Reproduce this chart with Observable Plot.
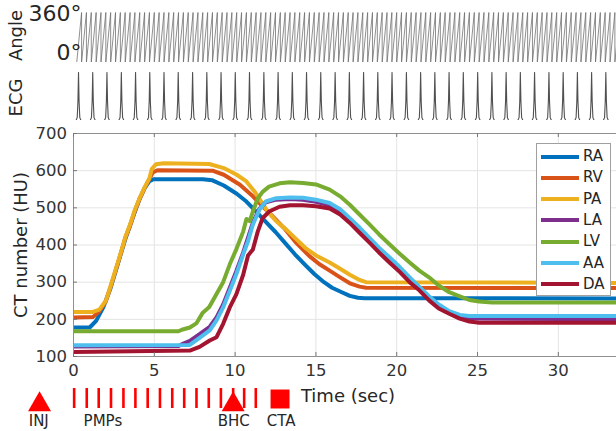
<!DOCTYPE html>
<html><head><meta charset="utf-8">
<script src="https://cdn.jsdelivr.net/npm/d3@7"></script>
<script src="https://cdn.jsdelivr.net/npm/@observablehq/plot@0.6"></script>
<style>
body{margin:0;background:#fff;}
#chart{position:relative;width:616px;height:431px;overflow:hidden;font-family:"DejaVu Sans",sans-serif;background:#fff;}
#chart svg{position:absolute;left:0;overflow:visible;}
.legend{position:absolute;left:536px;top:143px;width:73px;height:151px;border:1px solid #a0a0a0;background:#fff;}
.legend .row{position:absolute;left:0;width:73px;height:21.3px;}
.legend .sw{position:absolute;left:4px;top:8.6px;width:38px;height:4px;}
.legend .lb{position:absolute;left:46px;top:0;line-height:21.3px;font-size:15px;color:#262626;}
</style></head>
<body><div id="chart"></div>
<script>
// ---- data ----
const seriesNames = ["RA","RV","PA","LA","LV","AA","DA"];
const seriesColors = ["#0072BD","#D95319","#EDB120","#7E2F8E","#77AC30","#4DBEEE","#A2142F"];

const tRA = [0,1.0,1.4,1.85,2.3,2.6,2.9,3.2,3.5,3.8,4.1,4.4,4.7,4.95,8.0,8.6,9.3,10.1,10.7,11.3,11.9,12.5,13.1,13.7,14.3,14.9,15.5,16.0,16.5,17.1,17.6,18.0,33.6];
const vRA = [178,178,196,233,285,328,372,415,452,490,525,553,572,577,577,574,560,538,517,490,462,435,405,375,348,322,300,285,275,263,258,257,256];

const tRV = [0,1.2,1.6,2.0,2.3,2.6,2.9,3.2,3.5,3.8,4.1,4.4,4.7,4.9,5.2,8.6,9.3,10.3,11.1,11.7,12.3,13.0,13.8,14.6,15.2,15.85,16.5,17.1,17.7,18.1,33.6];
const vRV = [205,206,222,248,288,330,373,418,452,492,525,553,578,595,601,600,589,562,531,504,478,447,405,370,349,331,313,297,288,285,284];

const tPA = [0,1.2,1.6,2.0,2.3,2.6,2.9,3.2,3.5,3.8,4.1,4.4,4.7,4.85,5.1,5.6,8.4,9.3,10.1,10.7,11.2,11.6,12.0,12.55,13.2,13.8,14.4,15.0,15.85,16.5,17.1,17.7,18.1,33.6];
const vPA = [220,220,226,250,290,333,375,420,455,495,527,555,580,605,617,620,618,607,589,571,544,518,491,464,440,415,390,372,353,336,320,306,300,298];

const tLA = [0,6.5,6.8,7.2,7.8,8.43,8.85,9.26,9.67,10.08,10.5,10.8,11.1,11.5,11.9,12.55,13.4,14.2,15.0,15.85,16.5,17.08,17.7,18.3,18.9,19.55,20.2,20.8,21.4,22.0,22.6,23.25,23.9,24.5,33.6];
const vLA = [127,128,135,142,160,180,205,240,285,330,380,420,460,497,515,522,524,522,516,507,490,467,440,413,386,360,333,306,282,256,234,218,207,202,200];

const tLV = [0,6.5,6.7,7.2,7.6,8.0,8.4,8.85,9.26,9.67,10.08,10.5,10.7,10.9,11.1,11.4,11.7,12.1,12.75,13.4,14.2,15.0,15.85,16.5,17.08,17.7,18.3,18.9,19.55,20.2,20.8,21.4,22.0,22.6,23.25,23.9,24.5,25.1,25.9,33.6];
const vLV = [168,168,172,178,189,218,233,268,300,348,389,436,470,464,490,525,543,557,566,569,567,563,549,531,509,482,456,429,402,376,353,331,313,291,273,262,252,248,245,245];

const tAA = [0,7.2,7.8,8.43,8.85,9.26,9.67,10.08,10.5,10.8,11.1,11.5,11.9,12.55,13.4,14.2,15.0,15.85,16.5,17.08,17.7,18.3,18.9,19.55,20.2,20.8,21.4,22.0,22.6,23.25,23.9,24.5,33.6];
const vAA = [130,131,150,170,197,232,277,322,375,410,455,495,517,526,528,527,522,513,496,473,447,420,393,367,340,313,287,262,240,222,212,209,209];

const tDA = [0,7.2,7.8,8.43,8.85,9.26,9.67,10.08,10.5,10.8,11.1,11.4,11.7,12.1,12.75,13.4,14.2,15.0,15.85,16.5,17.08,17.7,18.3,18.9,19.55,20.2,20.8,21.4,22.0,22.6,23.25,23.9,24.5,25.1,33.6];
const vDA = [112,116,126,143,152,188,232,268,320,372,388,436,472,490,503,507,507,504,498,482,460,433,407,380,353,327,300,278,251,229,215,202,194,191,191];

const xTicks = [0,5,10,15,20,25,30];
const yTicks = [100,200,300,400,500,600,700];
const xDomain = [0, 33.6];
const yDomain = [100, 700];

// ECG R-peak times (s)
const ecgBeats = [0.31,1.19,2.07,2.96,3.84,4.72,5.60,6.48,7.37,8.25,9.13,10.01,10.89,11.78,12.66,13.54,14.42,15.30,16.19,17.07,17.95,18.83,19.71,20.60,21.48,22.36,23.24,24.12,25.01,25.89,26.77,27.65,28.53,29.42,30.30,31.18,32.06,32.94];
// gantry rotation start times (s)
const rotationStarts = [0.2,0.5,0.8,1.1,1.4,1.7,2.0,2.3,2.6,2.9,3.2,3.5,3.8,4.1,4.4,4.7,5.0,5.3,5.6,5.9,6.2,6.5,6.8,7.1,7.4,7.7,8.0,8.3,8.6,8.9,9.2,9.5,9.8,10.1,10.4,10.7,11.0,11.3,11.6,11.9,12.2,12.5,12.8,13.1,13.4,13.7,14.0,14.3,14.6,14.9,15.2,15.5,15.8,16.1,16.4,16.7,17.0,17.3,17.6,17.9,18.2,18.5,18.8,19.1,19.4,19.7,20.0,20.3,20.6,20.9,21.2,21.5,21.8,22.1,22.4,22.7,23.0,23.3,23.6,23.9,24.2,24.5,24.8,25.1,25.4,25.7,26.0,26.3,26.6,26.9,27.2,27.5,27.8,28.1,28.4,28.7,29.0,29.3,29.6,29.9,30.2,30.5,30.8,31.1,31.4,31.7,32.0,32.3,32.6,32.9,33.2,33.5,33.8];

// events
const pmpTimes = [0.04,0.82,1.56,2.32,3.09,3.83,4.59,5.35,6.11,6.85,7.61,8.37,9.12,9.88,10.56,11.28];
const triangleEvents = [{name:"INJ", t:-2.1},{name:"BHC", t:9.88}];
const squareEvents = [{name:"CTA", t:12.78}];
const eventLabels = [{label:"INJ", t:-2.15},{label:"PMPs", t:1.82},{label:"BHC", t:9.92},{label:"CTA", t:12.85}];

// ---- build ----
const seriesT = [tRA,tRV,tPA,tLA,tLV,tAA,tDA];
const seriesV = [vRA,vRV,vPA,vLA,vLV,vAA,vDA];
const curves = seriesNames.map((n,i) => seriesT[i].map((t,j) => ({series:n, t, v: seriesV[i][j]})));

const ecgShape = [[-0.16,0],[-0.08,0.06],[-0.035,0.4],[0,1],[0.035,0.4],[0.08,0.06],[0.16,0]];
const ecgPts = [{t:0, v:0}];
for (const b of ecgBeats) for (const [dt,dv] of ecgShape) ecgPts.push({t:b+dt, v:dv});
ecgPts.push({t:xDomain[1], v:0});

const angPts = [];
for (let k = 0; k < rotationStarts.length - 1; k++) {
  angPts.push({t: rotationStarts[k], a: 0});
  angPts.push({t: rotationStarts[k+1], a: 360});
}

const font = "DejaVu Sans";
const chart = document.getElementById("chart");
const common = {width:616, marginLeft:73, marginRight:0};
function place(svg, top){ svg.style.top = top + "px"; chart.appendChild(svg); }

// Angle panel
const ang = Plot.plot({
  ...common, height:66, marginTop:12, marginBottom:4,
  x:{domain:xDomain, axis:null},
  y:{domain:[0,360], axis:null},
  style:{fontFamily:font, color:"#262626", background:"transparent"},
  marks:[
    Plot.line(angPts, {x:"t", y:"a", stroke:"#6a6a6a", strokeWidth:0.75, clip:true}),
    Plot.text([{a:360, label:"360°"}], {y:"a", text:"label", frameAnchor:"left", textAnchor:"end", lineAnchor:"middle", dx:8, dy:1, fontSize:22, fill:"#262626"}),
    Plot.text([{a:0, label:"0°"}], {y:"a", text:"label", frameAnchor:"left", textAnchor:"end", lineAnchor:"middle", dx:8, dy:-10, fontSize:22, fill:"#262626"}),
    Plot.text(["Angle"], {text:d=>d, frameAnchor:"left", textAnchor:"middle", lineAnchor:"middle", rotate:-90, dx:-57, dy:-2, fontSize:18, fill:"#262626"})
  ]
});
place(ang, 0);

// ECG panel
const ecg = Plot.plot({
  ...common, height:60, marginTop:6, marginBottom:6,
  x:{domain:xDomain, axis:null},
  y:{domain:[0,1], axis:null},
  style:{fontFamily:font, color:"#262626", background:"transparent"},
  marks:[
    Plot.line(ecgPts, {x:"t", y:"v", stroke:"#505050", strokeWidth:1.1, clip:true}),
    Plot.text(["ECG"], {text:d=>d, frameAnchor:"left", textAnchor:"middle", lineAnchor:"middle", rotate:-90, dx:-57, dy:1, fontSize:18, fill:"#262626"})
  ]
});
place(ecg, 66);

// Main panel
const main = Plot.plot({
  ...common, height:305, marginTop:7, marginBottom:75,
  x:{domain:xDomain},
  y:{domain:yDomain},
  style:{fontFamily:font, fontSize:"16.5px", color:"#333", background:"transparent"},
  marks:[
    Plot.gridX(xTicks, {stroke:"#e4e4e4", strokeOpacity:1}),
    Plot.gridY(yTicks, {stroke:"#e4e4e4", strokeOpacity:1}),
    ...curves.map((c,i) => Plot.line(c, {x:"t", y:"v", stroke:seriesColors[i], strokeWidth:4, strokeLinejoin:"round", clip:true})),
    Plot.ruleX([xDomain[0]], {stroke:"#909090"}),
    Plot.ruleY(yDomain, {stroke:"#909090"}),
    Plot.tickX(xTicks, {insetTop:219, stroke:"#777"}),
    Plot.tickX(xTicks, {insetBottom:219, stroke:"#777"}),
    Plot.tickY(yTicks, {insetRight:539, stroke:"#777"}),
    Plot.axisX(xTicks, {tickSize:0, tickPadding:8, label:null, fill:"#333"}),
    Plot.axisY(yTicks, {tickSize:0, tickPadding:6.5, label:null, fill:"#333"}),
    Plot.text(["Time (sec)"], {text:d=>d, frameAnchor:"bottom", textAnchor:"middle", lineAnchor:"middle", dx:3, dy:40, fontSize:18, fill:"#262626"}),
    Plot.text(["CT number (HU)"], {text:d=>d, frameAnchor:"left", textAnchor:"middle", lineAnchor:"middle", rotate:-90, dx:-52, fontSize:18, fill:"#262626"})
  ]
});
place(main, 126);

// Events row
const ev = Plot.plot({
  ...common, height:51, marginTop:8, marginBottom:23,
  x:{domain:xDomain, axis:null},
  style:{fontFamily:font, color:"#262626", background:"transparent"},
  marks:[
    Plot.ruleX(pmpTimes, {stroke:"#ff0000", strokeWidth:2.6}),
    Plot.dot(triangleEvents, {x:"t", symbol:"triangle", r:8.54, fill:"#ff0000", stroke:null, frameAnchor:"middle", dy:6}),
    Plot.dot(squareEvents, {x:"t", symbol:"square", r:10.7, fill:"#ff0000", stroke:null, frameAnchor:"middle", dy:0.5}),
    Plot.text(eventLabels, {x:"t", text:"label", frameAnchor:"bottom", lineAnchor:"middle", dy:13, fontSize:15, fill:"#262626"})
  ]
});
place(ev, 380);

// Legend
const legend = document.createElement("div");
legend.className = "legend";
seriesNames.forEach((n,i) => {
  const row = document.createElement("div");
  row.className = "row";
  row.style.top = (2 + 21.3*i) + "px";
  const sw = document.createElement("div");
  sw.className = "sw"; sw.style.background = seriesColors[i];
  const lb = document.createElement("div");
  lb.className = "lb"; lb.textContent = n;
  row.appendChild(sw); row.appendChild(lb);
  legend.appendChild(row);
});
chart.appendChild(legend);
</script>
</body></html>
